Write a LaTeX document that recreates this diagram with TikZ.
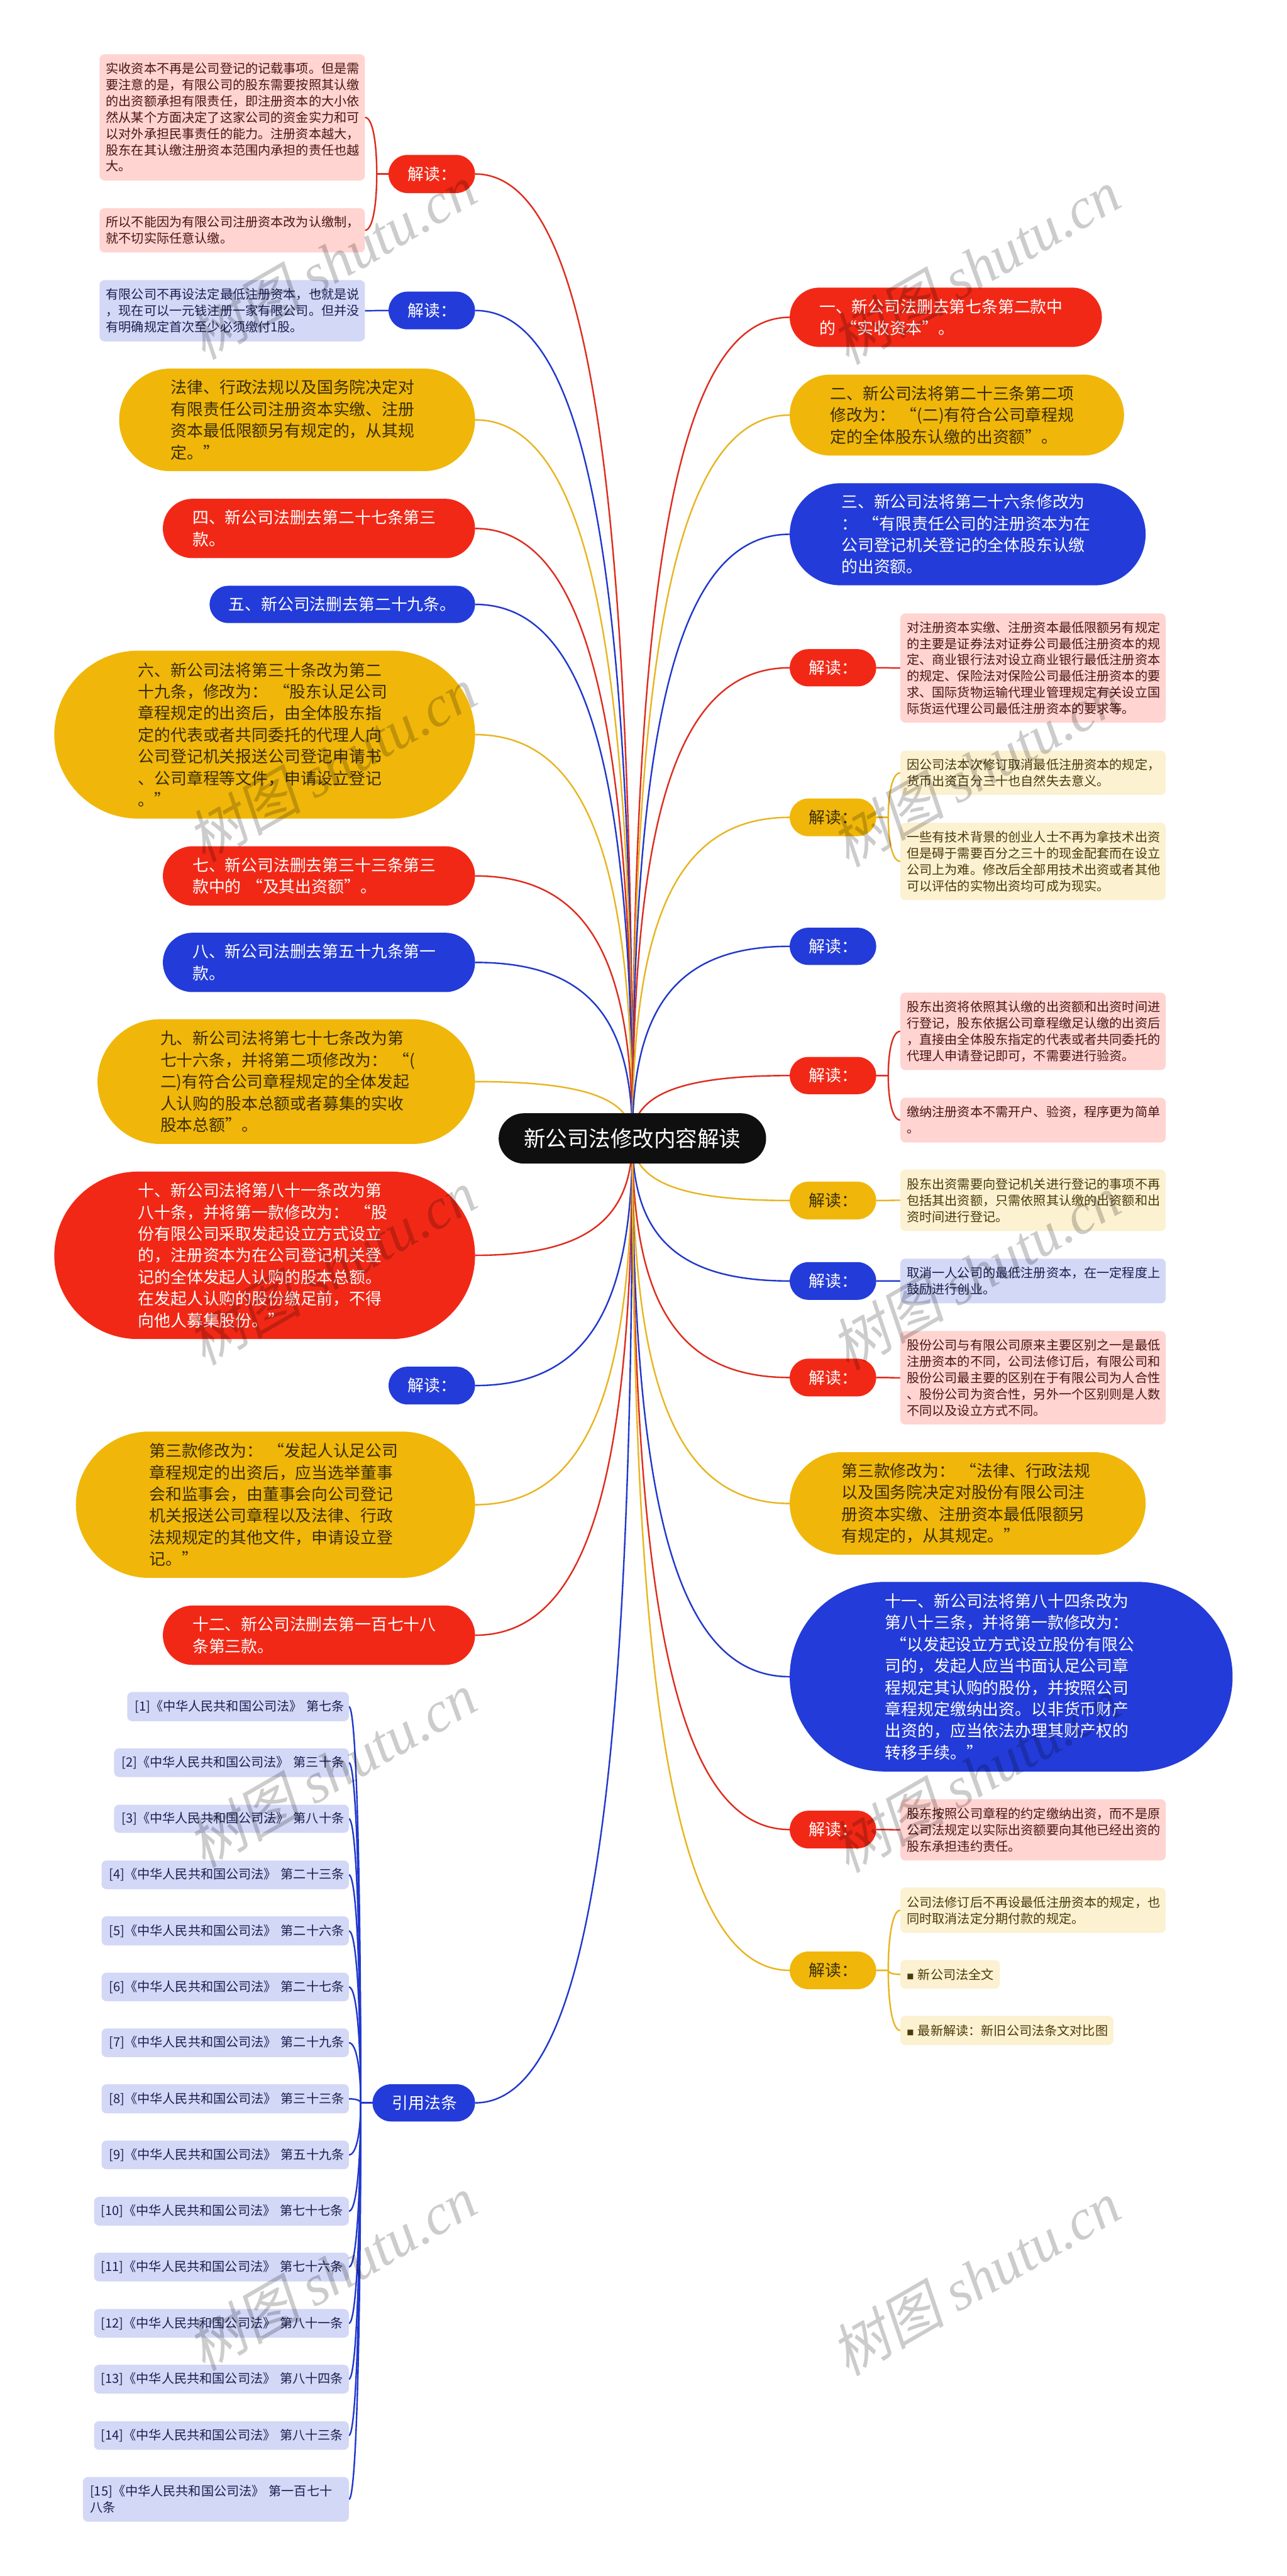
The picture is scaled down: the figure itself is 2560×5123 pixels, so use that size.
\documentclass[tikz,border=0pt]{standalone}
\usepackage{fontspec}
\setmainfont{Noto Sans CJK SC}
\newfontfamily\wmcjk[FakeSlant=0.2]{Noto Sans CJK SC}
\newfontfamily\wmlat{Liberation Serif}
\usetikzlibrary{calc,backgrounds}
\definecolor{cred}{HTML}{F22816}
\definecolor{cblue}{HTML}{233BD8}
\definecolor{cyel}{HTML}{F0B70A}
\definecolor{cblack}{HTML}{0F0F0F}
\definecolor{pred}{HTML}{FFD4D1}
\definecolor{pblue}{HTML}{D3D8F7}
\definecolor{pyel}{HTML}{FCF1D0}
\definecolor{tred}{HTML}{4A1512}
\definecolor{tblue}{HTML}{1A2050}
\definecolor{tyel}{HTML}{4A3A0A}
\definecolor{tdark}{HTML}{3A2D05}
\definecolor{lred}{HTML}{DE2C1E}
\definecolor{lblue}{HTML}{2038CC}
\definecolor{lyel}{HTML}{E8B520}
\tikzset{
  shapebase/.style={rectangle,inner ysep=0pt,outer sep=0pt,align=left,anchor=center},
  bigfont/.style={font=\fontsize{16.15}{21.5}\selectfont},
  smallfont/.style={font=\fontsize{12.6}{16.15}\selectfont},
  pillred/.style={shapebase,bigfont,fill=cred,text=white},
  pillblue/.style={shapebase,bigfont,fill=cblue,text=white},
  pillyel/.style={shapebase,bigfont,fill=cyel,text=tdark},
  boxred/.style={shapebase,smallfont,fill=pred,text=tred,rounded corners=5pt},
  boxblue/.style={shapebase,smallfont,fill=pblue,text=tblue,rounded corners=5pt},
  boxyel/.style={shapebase,smallfont,fill=pyel,text=tyel,rounded corners=5pt},
  rootpill/.style={shapebase,fill=cblack,text=white,font=\fontsize{21.6}{27}\selectfont},
  linkred/.style={draw=lred,line width=1.5pt},
  linkblue/.style={draw=lblue,line width=1.5pt},
  linkyel/.style={draw=lyel,line width=1.5pt},
  wmark/.style={text=black,opacity=0.2,rotate=30,anchor=center,font=\fontsize{57}{60}\selectfont,inner sep=0pt}
}
% name, style, x1, y1, x2, y2, left padding, text (all in reference pixels)
\newcommand{\nb}[8]{%
  \pgfmathsetmacro\nbw{(#5-#3)*0.5}%
  \pgfmathsetmacro\nbh{(#6-#4)*0.5}%
  \pgfmathsetmacro\nbp{#7*0.5}%
  \pgfmathsetmacro\nbt{\nbw-2*\nbp}%
  \pgfmathsetmacro\nbr{\nbh/2-0.02}%
  \node[rounded corners=\nbr pt,#2,minimum height=\nbh pt,inner xsep=\nbp pt,text width=\nbt pt] (#1) at ({(#3+#5)/2},{(#4+#6)/2}) {#8};}
% branch from the root: child anchor, style
\newcommand{\mainlink}[2]{%
  \draw[#2] (root.center) .. controls ($(root.center |- #1)!0.3!(root.center)$) and ($(root.center |- #1)!0.3!(#1)$) .. (#1);}
% leaf: parent anchor, child anchor, style
\newcommand{\leaflink}[3]{%
  \coordinate (lm) at ($(#1)!0.5!(#2)$);
  \coordinate (lj) at (lm |- #1);
  \coordinate (lk) at (lm |- #2);
  \draw[#3] (#1) -- (lj) .. controls ($(lj)!0.5!(lk)$) and ($(lk)!0.3!(#2)$) .. (#2);}
\newcommand{\wm}[3]{\node[wmark] (#1) at (#2,#3) {{\wmcjk 树图} {\wmlat\itshape shutu.cn}};}
\newcommand{\sq}{\makebox[11pt][l]{\fontsize{7}{7}\selectfont ■}}
\begin{document}
\begin{tikzpicture}[x=0.5pt,y=-0.5pt]
\useasboundingbox (0,0) rectangle (2560,5123);
% root
\nb{root}{rootpill}{992}{2214}{1524}{2314}{50}{新公司法修改内容解读}
% left side
\nb{lb1}{pillred}{773}{308}{945}{384}{38}{解读：}
\nb{lb1a}{boxred}{198}{108}{726}{359}{13}{实收资本不再是公司登记的记载事项。但是需\\要注意的是，有限公司的股东需要按照其认缴\\的出资额承担有限责任，即注册资本的大小依\\然从某个方面决定了这家公司的资金实力和可\\以对外承担民事责任的能力。注册资本越大，\\股东在其认缴注册资本范围内承担的责任也越\\大。}
\nb{lb1b}{boxred}{198}{414}{726}{502}{13}{所以不能因为有限公司注册资本改为认缴制，\\就不切实际任意认缴。}
\nb{lb2}{pillblue}{773}{580}{945}{655}{38}{解读：}
\nb{lb2a}{boxblue}{198}{557}{726}{679}{13}{有限公司不再设法定最低注册资本，也就是说\\，现在可以一元钱注册一家有限公司。但并没\\有明确规定首次至少必须缴付1股。}
\nb{lc}{pillyel}{237}{733}{945}{937}{103}{法律、行政法规以及国务院决定对\\有限责任公司注册资本实缴、注册\\资本最低限额另有规定的，从其规\\定。”}
\nb{l4}{pillred}{324}{992}{945}{1110}{59}{四、新公司法删去第二十七条第三\\款。}
\nb{l5}{pillblue}{417}{1165}{945}{1239}{38}{五、新公司法删去第二十九条。}
\nb{l6}{pillyel}{108}{1294}{945}{1628}{167}{六、新公司法将第三十条改为第二\\十九条，修改为：~“股东认足公司\\章程规定的出资后，由全体股东指\\定的代表或者共同委托的代理人向\\公司登记机关报送公司登记申请书\\、公司章程等文件，申请设立登记\\。”}
\nb{l7}{pillred}{324}{1683}{945}{1801}{59}{七、新公司法删去第三十三条第三\\款中的~“及其出资额”。}
\nb{l8}{pillblue}{324}{1855}{945}{1973}{59}{八、新公司法删去第五十九条第一\\款。}
\nb{l9}{pillyel}{194}{2027}{945}{2275}{125}{九、新公司法将第七十七条改为第\\七十六条，并将第二项修改为：~“(\\二)有符合公司章程规定的全体发起\\人认购的股本总额或者募集的实收\\股本总额”。}
\nb{l10}{pillred}{108}{2330}{945}{2663}{167}{十、新公司法将第八十一条改为第\\八十条，并将第一款修改为：~“股\\份有限公司采取发起设立方式设立\\的，注册资本为在公司登记机关登\\记的全体发起人认购的股本总额。\\在发起人认购的股份缴足前，不得\\向他人募集股份。”}
\nb{lb3}{pillblue}{773}{2718}{945}{2793}{38}{解读：}
\nb{l3k}{pillyel}{151}{2847}{945}{3138}{146}{第三款修改为：~“发起人认足公司\\章程规定的出资后，应当选举董事\\会和监事会，由董事会向公司登记\\机关报送公司章程以及法律、行政\\法规规定的其他文件，申请设立登\\记。”}
\nb{l12}{pillred}{324}{3193}{945}{3311}{59}{十二、新公司法删去第一百七十八\\条第三款。}
\nb{lref}{pillblue}{741}{4145}{945}{4219}{39}{引用法条}
% references
\nb{f1}{boxblue}{253}{3365}{694}{3423}{15}{[1]《中华人民共和国公司法》~第七条}
\nb{f2}{boxblue}{227}{3477}{694}{3534}{15}{[2]《中华人民共和国公司法》~第三十条}
\nb{f3}{boxblue}{227}{3589}{694}{3645}{15}{[3]《中华人民共和国公司法》~第八十条}
\nb{f4}{boxblue}{202}{3700}{694}{3757}{15}{[4]《中华人民共和国公司法》~第二十三条}
\nb{f5}{boxblue}{202}{3811}{694}{3869}{15}{[5]《中华人民共和国公司法》~第二十六条}
\nb{f6}{boxblue}{202}{3923}{694}{3980}{15}{[6]《中华人民共和国公司法》~第二十七条}
\nb{f7}{boxblue}{202}{4034}{694}{4091}{15}{[7]《中华人民共和国公司法》~第二十九条}
\nb{f8}{boxblue}{202}{4145}{694}{4203}{15}{[8]《中华人民共和国公司法》~第三十三条}
\nb{f9}{boxblue}{202}{4257}{694}{4314}{15}{[9]《中华人民共和国公司法》~第五十九条}
\nb{f10}{boxblue}{187}{4369}{694}{4426}{14}{[10]《中华人民共和国公司法》~第七十七条}
\nb{f11}{boxblue}{187}{4480}{694}{4537}{14}{[11]《中华人民共和国公司法》~第七十六条}
\nb{f12}{boxblue}{187}{4592}{694}{4649}{14}{[12]《中华人民共和国公司法》~第八十一条}
\nb{f13}{boxblue}{187}{4703}{694}{4760}{14}{[13]《中华人民共和国公司法》~第八十四条}
\nb{f14}{boxblue}{187}{4815}{694}{4872}{14}{[14]《中华人民共和国公司法》~第八十三条}
\nb{f15}{boxblue}{165}{4926}{694}{5015}{14}{[15]《中华人民共和国公司法》~第一百七十\\八条}
% right side
\nb{r1}{pillred}{1571}{572}{2192}{690}{59}{一、新公司法删去第七条第二款中\\的~“实收资本”。}
\nb{r2}{pillyel}{1571}{745}{2236}{906}{81}{二、新公司法将第二十三条第二项\\修改为：~“(二)有符合公司章程规\\定的全体股东认缴的出资额”。}
\nb{r3}{pillblue}{1571}{961}{2279}{1164}{103}{三、新公司法将第二十六条修改为\\：~“有限责任公司的注册资本为在\\公司登记机关登记的全体股东认缴\\的出资额。}
\nb{rb1}{pillred}{1571}{1291}{1743}{1365}{38}{解读：}
\nb{rb1a}{boxred}{1791}{1220}{2319}{1437}{13}{对注册资本实缴、注册资本最低限额另有规定\\的主要是证券法对证券公司最低注册资本的规\\定、商业银行法对设立商业银行最低注册资本\\的规定、保险法对保险公司最低注册资本的要\\求、国际货物运输代理业管理规定有关设立国\\际货运代理公司最低注册资本的要求等。}
\nb{rb2}{pillyel}{1571}{1588}{1743}{1663}{38}{解读：}
\nb{rb2a}{boxyel}{1791}{1493}{2319}{1581}{13}{因公司法本次修订取消最低注册资本的规定，\\货币出资百分三十也自然失去意义。}
\nb{rb2b}{boxyel}{1791}{1636}{2319}{1790}{13}{一些有技术背景的创业人士不再为拿技术出资\\但是碍于需要百分之三十的现金配套而在设立\\公司上为难。修改后全部用技术出资或者其他\\可以评估的实物出资均可成为现实。}
\nb{rb3}{pillblue}{1571}{1845}{1743}{1919}{38}{解读：}
\nb{rb4}{pillred}{1571}{2102}{1743}{2176}{38}{解读：}
\nb{rb4a}{boxred}{1791}{1974}{2319}{2128}{13}{股东出资将依照其认缴的出资额和出资时间进\\行登记，股东依据公司章程缴足认缴的出资后\\，直接由全体股东指定的代表或者共同委托的\\代理人申请登记即可，不需要进行验资。}
\nb{rb4b}{boxred}{1791}{2183}{2319}{2272}{13}{缴纳注册资本不需开户、验资，程序更为简单\\。}
\nb{rb5}{pillyel}{1571}{2350}{1743}{2425}{38}{解读：}
\nb{rb5a}{boxyel}{1791}{2326}{2319}{2448}{13}{股东出资需要向登记机关进行登记的事项不再\\包括其出资额，只需依照其认缴的出资额和出\\资时间进行登记。}
\nb{rb6}{pillblue}{1571}{2510}{1743}{2585}{38}{解读：}
\nb{rb6a}{boxblue}{1791}{2503}{2319}{2592}{13}{取消一人公司的最低注册资本，在一定程度上\\鼓励进行创业。}
\nb{rb7}{pillred}{1571}{2702}{1743}{2777}{38}{解读：}
\nb{rb7a}{boxred}{1791}{2647}{2319}{2833}{13}{股份公司与有限公司原来主要区别之一是最低\\注册资本的不同，公司法修订后，有限公司和\\股份公司最主要的区别在于有限公司为人合性\\、股份公司为资合性，另外一个区别则是人数\\不同以及设立方式不同。}
\nb{r3k}{pillyel}{1571}{2888}{2279}{3092}{103}{第三款修改为：~“法律、行政法规\\以及国务院决定对股份有限公司注\\册资本实缴、注册资本最低限额另\\有规定的，从其规定。”}
\nb{r11}{pillblue}{1571}{3146}{2452}{3523}{190}{十一、新公司法将第八十四条改为\\第八十三条，并将第一款修改为：\\~“以发起设立方式设立股份有限公\\司的，发起人应当书面认足公司章\\程规定其认购的股份，并按照公司\\章程规定缴纳出资。以非货币财产\\出资的，应当依法办理其财产权的\\转移手续。”}
\nb{rb8}{pillred}{1571}{3601}{1743}{3676}{38}{解读：}
\nb{rb8a}{boxred}{1791}{3578}{2319}{3700}{13}{股东按照公司章程的约定缴纳出资，而不是原\\公司法规定以实际出资额要向其他已经出资的\\股东承担违约责任。}
\nb{rb9}{pillyel}{1571}{3881}{1743}{3956}{38}{解读：}
\nb{rb9a}{boxyel}{1791}{3754}{2319}{3844}{13}{公司法修订后不再设最低注册资本的规定，也\\同时取消法定分期付款的规定。}
\nb{rb9b}{boxyel}{1791}{3898}{1989}{3955}{13}{\sq 新公司法全文}
\nb{rb9c}{boxyel}{1791}{4009}{2215}{4067}{13}{\sq 最新解读：新旧公司法条文对比图}
% connectors
\begin{scope}[on background layer]
\fill[white] (0,0) rectangle (2560,5123);
\mainlink{lb1.east}{linkred}
\mainlink{lb2.east}{linkblue}
\mainlink{lc.east}{linkyel}
\mainlink{l4.east}{linkred}
\mainlink{l5.east}{linkblue}
\mainlink{l6.east}{linkyel}
\mainlink{l7.east}{linkred}
\mainlink{l8.east}{linkblue}
\mainlink{l9.east}{linkyel}
\mainlink{l10.east}{linkred}
\mainlink{lb3.east}{linkblue}
\mainlink{l3k.east}{linkyel}
\mainlink{l12.east}{linkred}
\mainlink{lref.east}{linkblue}
\mainlink{r1.west}{linkred}
\mainlink{r2.west}{linkyel}
\mainlink{r3.west}{linkblue}
\mainlink{rb1.west}{linkred}
\mainlink{rb2.west}{linkyel}
\mainlink{rb3.west}{linkblue}
\mainlink{rb4.west}{linkred}
\mainlink{rb5.west}{linkyel}
\mainlink{rb6.west}{linkblue}
\mainlink{rb7.west}{linkred}
\mainlink{r3k.west}{linkyel}
\mainlink{r11.west}{linkblue}
\mainlink{rb8.west}{linkred}
\mainlink{rb9.west}{linkyel}
\leaflink{lb1.west}{lb1a.east}{linkred}
\leaflink{lb1.west}{lb1b.east}{linkred}
\leaflink{lb2.west}{lb2a.east}{linkblue}
\leaflink{rb1.east}{rb1a.west}{linkred}
\leaflink{rb2.east}{rb2a.west}{linkyel}
\leaflink{rb2.east}{rb2b.west}{linkyel}
\leaflink{rb4.east}{rb4a.west}{linkred}
\leaflink{rb4.east}{rb4b.west}{linkred}
\leaflink{rb5.east}{rb5a.west}{linkyel}
\leaflink{rb6.east}{rb6a.west}{linkblue}
\leaflink{rb7.east}{rb7a.west}{linkred}
\leaflink{rb8.east}{rb8a.west}{linkred}
\leaflink{rb9.east}{rb9a.west}{linkyel}
\leaflink{rb9.east}{rb9b.west}{linkyel}
\leaflink{rb9.east}{rb9c.west}{linkyel}
\leaflink{lref.west}{f1.east}{linkblue}
\leaflink{lref.west}{f2.east}{linkblue}
\leaflink{lref.west}{f3.east}{linkblue}
\leaflink{lref.west}{f4.east}{linkblue}
\leaflink{lref.west}{f5.east}{linkblue}
\leaflink{lref.west}{f6.east}{linkblue}
\leaflink{lref.west}{f7.east}{linkblue}
\leaflink{lref.west}{f8.east}{linkblue}
\leaflink{lref.west}{f9.east}{linkblue}
\leaflink{lref.west}{f10.east}{linkblue}
\leaflink{lref.west}{f11.east}{linkblue}
\leaflink{lref.west}{f12.east}{linkblue}
\leaflink{lref.west}{f13.east}{linkblue}
\leaflink{lref.west}{f14.east}{linkblue}
\leaflink{lref.west}{f15.east}{linkblue}
\end{scope}
% watermarks
\wm{wa}{660}{520}\wm{wb}{660}{1520}\wm{wc}{660}{2520}\wm{wd}{660}{3520}\wm{we}{660}{4520}
\wm{wf}{1940}{530}\wm{wg}{1940}{1530}\wm{wh}{1940}{2530}\wm{wi}{1940}{3530}\wm{wj}{1940}{4530}
\end{tikzpicture}
\end{document}
